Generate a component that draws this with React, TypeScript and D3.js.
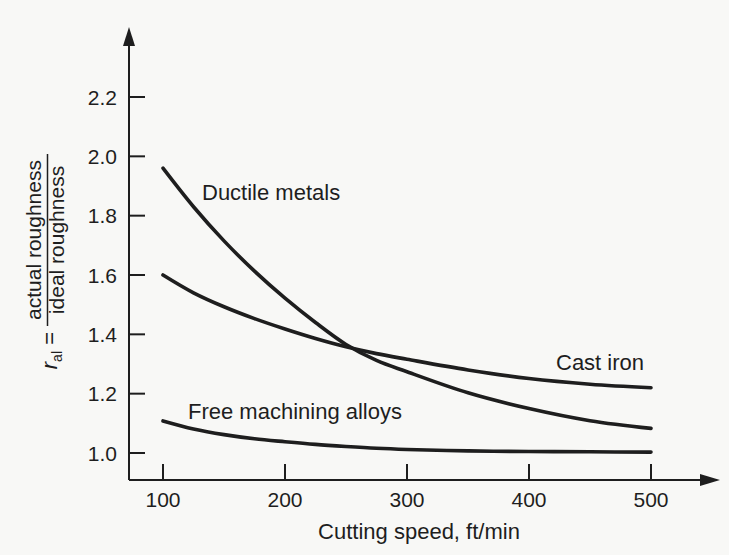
import React from "react";
import * as d3 from "d3";

const speeds = [100, 125, 150, 175, 200, 225, 250, 275, 300, 350, 400, 450, 500];
const ductileMetals = [1.96, 1.83, 1.715, 1.613, 1.522, 1.44, 1.366, 1.312, 1.274, 1.203, 1.15, 1.109, 1.083];
const castIron = [1.6, 1.54, 1.493, 1.453, 1.418, 1.386, 1.358, 1.335, 1.316, 1.28, 1.251, 1.232, 1.22];
const freeMachining = [1.108, 1.081, 1.062, 1.048, 1.038, 1.029, 1.022, 1.016, 1.012, 1.007, 1.005, 1.004, 1.003];

const xTicks = [100, 200, 300, 400, 500];
const yTicks = [1.0, 1.2, 1.4, 1.6, 1.8, 2.0, 2.2];

const W = 729;
const H = 555;
const FONT = "'Liberation Sans', Arial, Helvetica, sans-serif";
const INK = "#1e1e1e";

export default function App() {
  const x = d3.scaleLinear().domain([100, 500]).range([163, 651]);
  const y = d3.scaleLinear().domain([1.0, 2.2]).range([453, 97]);
  const axisX = 129;
  const axisY = 480;

  const line = d3
    .line<number>()
    .x((_, i) => x(speeds[i]))
    .y((d) => y(d))
    .curve(d3.curveCatmullRom.alpha(0.5));

  const series = [ductileMetals, castIron, freeMachining];

  return (
    <svg
      width={W}
      height={H}
      viewBox={`0 0 ${W} ${H}`}
      style={{ position: "absolute", left: 0, top: 0, fontFamily: FONT }}
    >
      <rect x={0} y={0} width={W} height={H} fill="#f8f8f6" />

      {/* axes */}
      <line x1={axisX} y1={axisY} x2={axisX} y2={42} stroke={INK} strokeWidth={2} />
      <path d={`M${axisX - 6},46 L${axisX},27 L${axisX + 6},46 Z`} fill={INK} />
      <line x1={axisX} y1={axisY} x2={704} y2={axisY} stroke={INK} strokeWidth={2} />
      <path d={`M700,${axisY - 6} L720,${axisY} L700,${axisY + 6} Z`} fill={INK} />

      {/* y ticks */}
      {yTicks.map((t) => (
        <g key={`y${t}`}>
          <line x1={axisX} x2={axisX + 16} y1={y(t)} y2={y(t)} stroke={INK} strokeWidth={2} />
          <text
            x={117}
            y={y(t)}
            dy="0.36em"
            textAnchor="end"
            fontSize={21}
            fill={INK}
          >
            {t.toFixed(1)}
          </text>
        </g>
      ))}

      {/* x ticks */}
      {xTicks.map((t) => (
        <g key={`x${t}`}>
          <line x1={x(t)} x2={x(t)} y1={axisY} y2={axisY - 16} stroke={INK} strokeWidth={2} />
          <text x={x(t)} y={507} textAnchor="middle" fontSize={21} fill={INK}>
            {t}
          </text>
        </g>
      ))}

      {/* curves */}
      {series.map((s, i) => (
        <path
          key={i}
          d={line(s) || ""}
          fill="none"
          stroke={INK}
          strokeWidth={3.6}
          strokeLinecap="round"
        />
      ))}

      {/* curve labels */}
      <text x={202} y={200} fontSize={22} fill={INK}>Ductile metals</text>
      <text x={556} y={370} fontSize={22} fill={INK}>Cast iron</text>
      <text x={188} y={419} fontSize={22} fill={INK}>Free machining alloys</text>

      {/* x axis title */}
      <text x={419} y={539} textAnchor="middle" fontSize={22} fill={INK}>
        Cutting speed, ft/min
      </text>

      {/* y axis title */}
      <g transform="translate(0,240) rotate(-90)">
        <text x={0} y={41} textAnchor="middle" fontSize={21} fill={INK}>
          actual roughness
        </text>
        <line x1={-86} x2={86} y1={47.5} y2={47.5} stroke={INK} strokeWidth={1.5} />
        <text x={0} y={64} textAnchor="middle" fontSize={21} fill={INK}>
          ideal roughness
        </text>
        <text x={-92} y={57} textAnchor="end" fontSize={22} fill={INK}>
          <tspan fontStyle="italic">r</tspan>
          <tspan fontSize={14} dy={5}>al</tspan>
          <tspan dy={-5}> =</tspan>
        </text>
      </g>
    </svg>
  );
}
